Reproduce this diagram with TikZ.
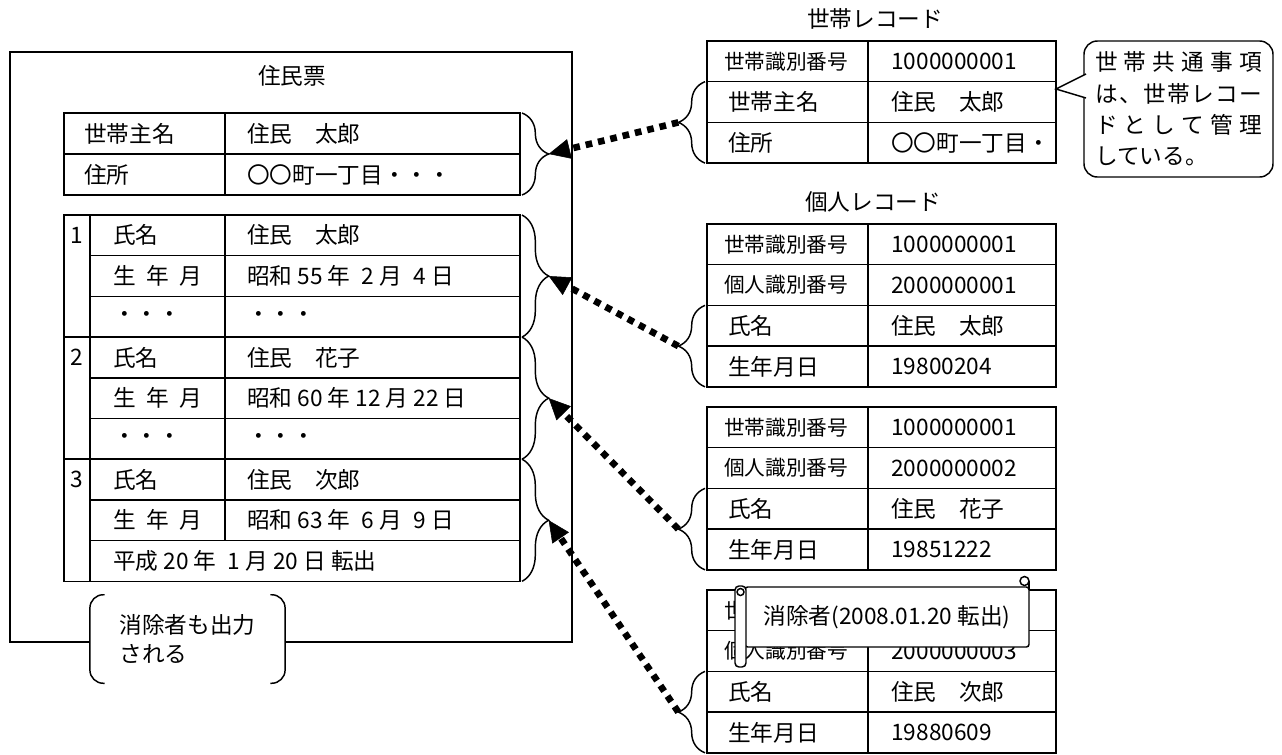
\documentclass[tikz,border=0pt]{standalone}
\usepackage{fontspec}
\setmainfont{Noto Sans CJK JP}
\usetikzlibrary{arrows.meta,decorations.pathreplacing}
\newcommand\cellfont{\fontsize{17pt}{20pt}\selectfont}
\newcommand\idfont{\fontsize{15.5pt}{18pt}\selectfont}
\newcommand\memofont{\fontsize{17pt}{23.5pt}\selectfont}
\newcommand\notefont{\fontsize{17pt}{22pt}\selectfont}
\tikzset{
  grid/.style={line width=1.1pt},
  txt/.style={anchor=west,inner sep=0pt,font=\cellfont},
  idtxt/.style={anchor=west,inner sep=0pt,font=\idfont},
  title/.style={inner sep=0pt,font=\cellfont},
  curly/.style={line width=1.1pt,decorate,decoration={brace,amplitude=20pt}},
  link/.style={line width=5pt,dash pattern=on 5pt off 4.5pt,
    -{Triangle[length=16pt,width=15pt,line width=0.4pt]}},
  bubble/.style={draw,line width=1.1pt,fill=white,rounded corners=10pt,
    minimum width=141.75pt,minimum height=102pt,inner sep=0pt,align=left,font=\memofont},
  notebox/.style={fill=white,minimum width=146pt,minimum height=66pt,
    inner sep=0pt,align=left,font=\notefont},
  scrollbox/.style={draw,line width=1.1pt,fill=white,rounded corners=2pt,
    minimum width=213pt,minimum height=45pt,inner sep=0pt,font=\cellfont},
}
\begin{document}
\begin{tikzpicture}[x=0.75pt,y=-0.75pt]
    \useasboundingbox (0,0) rectangle (1282,754);

    % juminhyo
    \draw[grid] (10,52) rectangle (572,642);
    \node[title] (jumin) at (292,76) {住民票};

    \draw[grid] (64,113) rectangle (520,195);
    \draw[grid] (64,154) -- (520,154);
    \draw[grid] (225,113) -- (225,195);
    \node[txt] (hk1) at (84,133.5) {世帯主名};
    \node[txt] (hv1) at (247,133.5) {住民　太郎};
    \node[txt] (hk2) at (84,174.5) {住所};
    \node[txt] (hv2) at (247,174.5) {〇〇町一丁目・・・};

    \draw[grid] (64,215) rectangle (520,581.3);
    \draw[grid] (64,337.1) -- (520,337.1);
    \draw[grid] (64,459.2) -- (520,459.2);
    \foreach \y in {255.7,296.4,377.8,418.5,499.9,540.6}
        \draw[grid] (90,\y) -- (520,\y);
    \draw[grid] (90,215) -- (90,581.3);
    \draw[grid] (225,215) -- (225,540.6);

    \node[title] (n1) at (77,235.35) {1};
    \node[txt] (pk1) at (113,235.35) {氏名};
    \node[txt] (pv1) at (247,235.35) {住民　太郎};
    \node[txt] (pk2) at (113,276.05) {生\hspace{8pt}年\hspace{8pt}月};
    \node[txt] (pv2) at (247,276.05) {昭和 55 年\enspace 2 月\enspace 4 日};
    \node[txt] (pk3) at (113,316.75) {・・・};
    \node[txt] (pv3) at (247,316.75) {・・・};

    \node[title] (n2) at (77,357.45) {2};
    \node[txt] (pk4) at (113,357.45) {氏名};
    \node[txt] (pv4) at (247,357.45) {住民　花子};
    \node[txt] (pk5) at (113,398.15) {生\hspace{8pt}年\hspace{8pt}月};
    \node[txt] (pv5) at (247,398.15) {昭和 60 年 12 月 22 日};
    \node[txt] (pk6) at (113,438.85) {・・・};
    \node[txt] (pv6) at (247,438.85) {・・・};

    \node[title] (n3) at (77,479.55) {3};
    \node[txt] (pk7) at (113,479.55) {氏名};
    \node[txt] (pv7) at (247,479.55) {住民　次郎};
    \node[txt] (pk8) at (113,520.25) {生\hspace{8pt}年\hspace{8pt}月};
    \node[txt] (pv8) at (247,520.25) {昭和 63 年\enspace 6 月\enspace 9 日};
    \node[txt] (pk9) at (113,560.95) {平成 20 年\enspace 1 月 20 日 転出};

    \draw[curly] (522,113) -- (522,195);
    \draw[curly] (522,215) -- (522,337.1);
    \draw[curly] (522,337.1) -- (522,459.2);
    \draw[curly] (522,459.2) -- (522,581.3);
    \coordinate (hhead) at (548.7,154);
    \coordinate (head1) at (548.7,276.05);
    \coordinate (head2) at (548.7,398.15);
    \coordinate (head3) at (548.7,520.25);

    \node[notebox] (note) at (187.5,639) {消除者も出力\\される};
    \draw[grid,rounded corners=10pt] ([xshift=11pt]note.north west) -- (note.north west)
        -- (note.south west) -- ([xshift=11pt]note.south west);
    \draw[grid,rounded corners=10pt] ([xshift=-11pt]note.north east) -- (note.north east)
        -- (note.south east) -- ([xshift=-11pt]note.south east);

    % setai record
    \node[title] (htitle) at (875,19) {世帯レコード};
    \draw[grid] (707,41) rectangle (1056,163.1);
    \draw[grid] (707,81.7) -- (1056,81.7);
    \draw[grid] (707,122.4) -- (1056,122.4);
    \draw[grid] (868,41) -- (868,163.1);
    \node[idtxt] (rk1) at (724,61.35) {世帯識別番号};
    \node[txt] (rv1) at (891,61.35) {1000000001};
    \node[txt] (rk2) at (728,102.05) {世帯主名};
    \node[txt] (rv2) at (891,102.05) {住民　太郎};
    \node[txt] (rk3) at (728,142.75) {住所};
    \node[txt] (rv3) at (891,142.75) {〇〇町一丁目・};
    \draw[curly] (705,163.1) -- (705,81.7);
    \coordinate (htail) at (678.3,122.4);

    \node[bubble] (memo) at (1178.5,109) {%
        \makebox[125pt]{世\hfill 帯\hfill 共\hfill 通\hfill 事\hfill 項}\\
        \makebox[125pt]{は\hfill 、\hfill 世\hfill 帯\hfill レ\hfill コ\hfill ー}\\
        \makebox[125pt]{ド\hfill と\hfill し\hfill て\hfill 管\hfill 理}\\
        している。};
    \coordinate (memoa) at (1086,74);
    \coordinate (memob) at (1086,98);
    \coordinate (memotip) at (1056,89);
    \fill[white] (memoa) -- (memotip) -- (memob) -- cycle;
    \draw[grid] (memoa) -- (memotip) -- (memob);

    % kojin records
    \node[title] (ptitle) at (873,202) {個人レコード};
    \draw[grid] (707,224) rectangle (1056,386.8);
    \draw[grid] (707,264.7) -- (1056,264.7);
    \draw[grid] (707,305.4) -- (1056,305.4);
    \draw[grid] (707,346.1) -- (1056,346.1);
    \draw[grid] (868,224) -- (868,386.8);
    \node[idtxt] (ak1) at (724,244.35) {世帯識別番号};
    \node[txt] (av1) at (891,244.35) {1000000001};
    \node[idtxt] (ak2) at (724,285.05) {個人識別番号};
    \node[txt] (av2) at (891,285.05) {2000000001};
    \node[txt] (ak3) at (728,325.75) {氏名};
    \node[txt] (av3) at (891,325.75) {住民　太郎};
    \node[txt] (ak4) at (728,366.45) {生年月日};
    \node[txt] (av4) at (891,366.45) {19800204};
    \draw[curly] (705,386.8) -- (705,305.4);
    \coordinate (tail1) at (678.3,346.1);

    \draw[grid] (707,407) rectangle (1056,569.8);
    \draw[grid] (707,447.7) -- (1056,447.7);
    \draw[grid] (707,488.4) -- (1056,488.4);
    \draw[grid] (707,529.1) -- (1056,529.1);
    \draw[grid] (868,407) -- (868,569.8);
    \node[idtxt] (bk1) at (724,427.35) {世帯識別番号};
    \node[txt] (bv1) at (891,427.35) {1000000001};
    \node[idtxt] (bk2) at (724,468.05) {個人識別番号};
    \node[txt] (bv2) at (891,468.05) {2000000002};
    \node[txt] (bk3) at (728,508.75) {氏名};
    \node[txt] (bv3) at (891,508.75) {住民　花子};
    \node[txt] (bk4) at (728,549.45) {生年月日};
    \node[txt] (bv4) at (891,549.45) {19851222};
    \draw[curly] (705,569.8) -- (705,488.4);
    \coordinate (tail2) at (678.3,529.1);

    \draw[grid] (707,590) rectangle (1056,752.8);
    \draw[grid] (707,630.7) -- (1056,630.7);
    \draw[grid] (707,671.4) -- (1056,671.4);
    \draw[grid] (707,712.1) -- (1056,712.1);
    \draw[grid] (868,590) -- (868,752.8);
    \node[idtxt] (ck1) at (724,610.35) {世帯識別番号};
    \node[txt] (cv1) at (891,610.35) {1000000001};
    \node[idtxt] (ck2) at (724,651.05) {個人識別番号};
    \node[txt] (cv2) at (891,651.05) {2000000003};
    \node[txt] (ck3) at (728,691.75) {氏名};
    \node[txt] (cv3) at (891,691.75) {住民　次郎};
    \node[txt] (ck4) at (728,732.45) {生年月日};
    \node[txt] (cv4) at (891,732.45) {19880609};
    \draw[curly] (705,752.8) -- (705,671.4);
    \coordinate (tail3) at (678.3,712.1);

    % scroll
    \node[scrollbox] (gone) at (887,617) {消除者(2008.01.20 転出)};
    \draw[grid] (1029,590) -- (1029,581);
    \draw[grid,fill=white] (1024.5,581) circle (4.5);
    \draw[grid,fill=white,rounded corners=3pt] (735,586) rectangle (746,667);
    \draw[grid,fill=white] (740.5,592) circle (3.5);

    % links
    \draw[link] (htail) -- (hhead);
    \draw[link] (tail1) -- (head1);
    \draw[link] (tail2) -- (head2);
    \draw[link] (tail3) -- (head3);
\end{tikzpicture}
\end{document}
